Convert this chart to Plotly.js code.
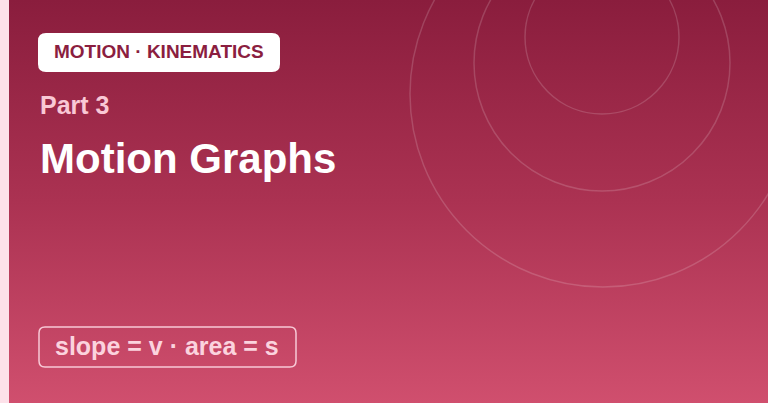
<!DOCTYPE html>
<html>
<head>
<meta charset="utf-8">
<script src="https://cdn.plot.ly/plotly-3.0.1.min.js"></script>
<style>
  html, body { margin: 0; padding: 0; background: #ffffff; }
  #plot { width: 768px; height: 403px; }
</style>
</head>
<body>
<div id="plot"></div>
<script>
// card texts
const badgeText = "MOTION · KINEMATICS";
const partLabel = "Part 3";
const titleText = "Motion Graphs";
const formulaText = "slope = v · area = s";

// decorative rings: [centerX, centerY, radius] in page pixels
const ringCx = [602, 602, 603];
const ringCy = [37, 63, 94];
const ringR = [77, 128, 193];

const W = 768;
const H = 403;
const FONT = "Liberation Sans, Arial, sans-serif";

// rounded rectangle as an svg path (no arc support in plotly paths)
function roundRect(x0, y0, x1, y1, r) {
  return `M${x0 + r},${y0} L${x1 - r},${y0} Q${x1},${y0} ${x1},${y0 + r} ` +
    `L${x1},${y1 - r} Q${x1},${y1} ${x1 - r},${y1} L${x0 + r},${y1} ` +
    `Q${x0},${y1} ${x0},${y1 - r} L${x0},${y0 + r} Q${x0},${y0} ${x0 + r},${y0} Z`;
}

// vertical gradient; colorscale 0 ends up at the bottom of the card
const background = {
  type: "scatter",
  mode: "lines",
  x: [0, W, W, 0, 0],
  y: [0, 0, H, H, 0],
  fill: "toself",
  fillgradient: {
    type: "vertical",
    colorscale: [[0, "#d04f6e"], [0.5, "#ab3252"], [1, "#8a1d3d"]],
  },
  line: { width: 0 },
  hoverinfo: "skip",
};

const shapes = [];

ringR.forEach((r, i) => {
  shapes.push({
    type: "circle",
    xref: "x", yref: "y",
    x0: ringCx[i] - r, x1: ringCx[i] + r,
    y0: ringCy[i] - r, y1: ringCy[i] + r,
    line: { color: "rgba(255,255,255,0.16)", width: 1.5 },
    fillcolor: "rgba(0,0,0,0)",
  });
});

// left accent strip
shapes.push({
  type: "rect", xref: "x", yref: "y",
  x0: 0, x1: 9, y0: 0, y1: H,
  fillcolor: "#fde1e9", line: { width: 0 },
});

// badge
shapes.push({
  type: "path", xref: "x", yref: "y",
  path: roundRect(38, 33, 280, 72, 8),
  fillcolor: "#ffffff", line: { width: 0 },
});

// formula box
shapes.push({
  type: "path", xref: "x", yref: "y",
  path: roundRect(39, 327, 296, 367, 6),
  fillcolor: "rgba(0,0,0,0)", line: { color: "#f8c9d6", width: 1.5 },
});

const annotations = [
  {
    text: badgeText, x: 159, y: 51, xanchor: "center", yanchor: "middle",
    font: { family: FONT, size: 19, color: "#8b1e3f", weight: 700 },
  },
  {
    text: partLabel, x: 38, y: 105, xanchor: "left", yanchor: "middle",
    font: { family: FONT, size: 25, color: "#f9c8d5", weight: 700 },
  },
  {
    text: titleText, x: 38, y: 158, xanchor: "left", yanchor: "middle",
    font: { family: FONT, size: 42, color: "#ffffff", weight: 700 },
  },
  {
    text: formulaText, x: 53, y: 346, xanchor: "left", yanchor: "middle",
    font: { family: FONT, size: 25, color: "#fbd3de", weight: 700 },
  },
].map((a) => Object.assign({ xref: "x", yref: "y", showarrow: false }, a));

const layout = {
  width: W,
  height: H,
  margin: { l: 0, r: 0, t: 0, b: 0 },
  paper_bgcolor: "#8a1d3d",
  plot_bgcolor: "rgba(0,0,0,0)",
  showlegend: false,
  xaxis: { range: [0, W], visible: false, fixedrange: true },
  yaxis: { range: [H, 0], visible: false, fixedrange: true },
  shapes: shapes,
  annotations: annotations,
};

Plotly.newPlot("plot", [background], layout, { displayModeBar: false, staticPlot: true });
</script>
</body>
</html>
